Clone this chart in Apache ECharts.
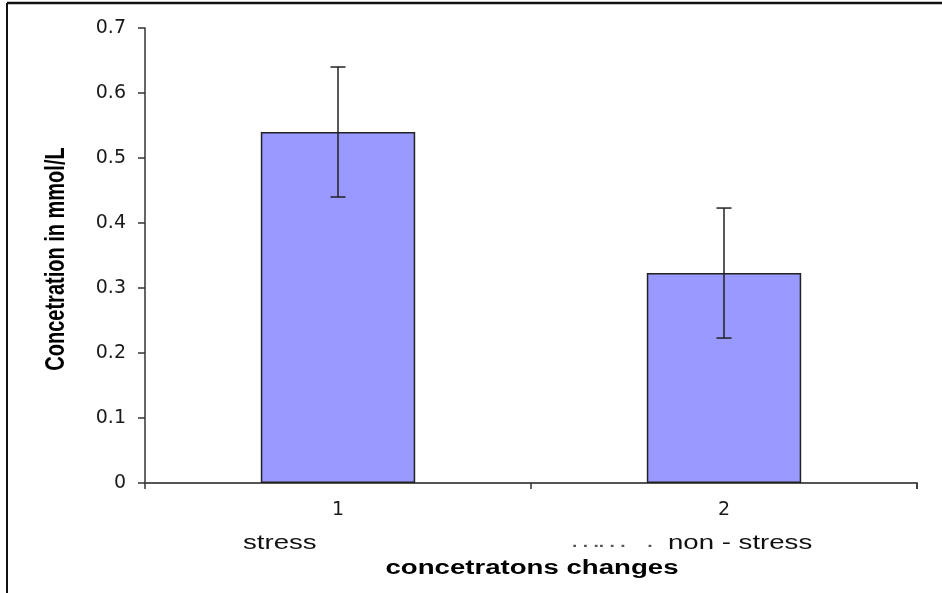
<!DOCTYPE html>
<html>
<head>
<meta charset="utf-8">
<script src="https://cdn.jsdelivr.net/npm/echarts@6/dist/echarts.min.js"></script>
<style>
html,body{margin:0;padding:0;background:#fff;}
#c{width:942px;height:593px;}
</style>
</head>
<body>
<div id="c"></div>
<script>
var categories = ['1', '2'];
var subLabels = ['stress', 'non - stress'];
var means = [0.54, 0.323];
var errors = [0.1, 0.1];
var yTicks = [0, 0.1, 0.2, 0.3, 0.4, 0.5, 0.6, 0.7];
var xTitle = 'concetratons changes';
var yTitle = 'Concetration in mmol/L';

var chart = echarts.init(document.getElementById('c'), null, {renderer: 'canvas'});
var FONT = '"Liberation Sans", Arial, sans-serif';
var WIDE = '"DejaVu Sans", "Liberation Sans", sans-serif';
var SX = 1.38;

var errData = means.map(function (m, i) { return [i, m - errors[i], m + errors[i]]; });

var option = {
  animation: false,
  backgroundColor: '#ffffff',
  grid: {left: 145, right: 25, top: 28, bottom: 110, containLabel: false},
  xAxis: {
    type: 'category',
    data: categories,
    axisLine: {lineStyle: {color: '#555', width: 2}},
    axisTick: {show: true, length: 6, lineStyle: {color: '#333', width: 1.5}},
    axisLabel: {fontFamily: WIDE, fontSize: 19, color: '#1a1a1a', margin: 18},
    splitLine: {show: false}
  },
  yAxis: {
    type: 'value',
    min: 0, max: 0.7, interval: 0.1,
    axisLine: {show: true, lineStyle: {color: '#333', width: 1.5}},
    axisTick: {show: true, length: 7, lineStyle: {color: '#333', width: 1.5}},
    axisLabel: {fontFamily: WIDE, fontSize: 19, color: '#1a1a1a', margin: 19,
      formatter: function (v) { var t = yTicks.find(function (x) { return Math.abs(x - v) < 1e-9; }); return String(t !== undefined ? t : v); }},
    splitLine: {show: false}
  },
  series: [
    {
      type: 'bar',
      data: means,
      barWidth: '40%',
      itemStyle: {color: '#9999FF', borderColor: '#222', borderWidth: 1.5},
      z: 2
    },
    {
      type: 'custom',
      data: errData,
      z: 5,
      renderItem: function (params, api) {
        var x = api.value(0);
        var lo = api.coord([x, api.value(1)]);
        var hi = api.coord([x, api.value(2)]);
        var cap = 7.5;
        var style = {stroke: '#222', lineWidth: 1.5};
        return {
          type: 'group',
          children: [
            {type: 'line', shape: {x1: hi[0], y1: hi[1], x2: lo[0], y2: lo[1]}, style: style},
            {type: 'line', shape: {x1: hi[0] - cap, y1: hi[1], x2: hi[0] + cap, y2: hi[1]}, style: style},
            {type: 'line', shape: {x1: lo[0] - cap, y1: lo[1], x2: lo[0] + cap, y2: lo[1]}, style: style}
          ]
        };
      }
    }
  ],
  graphic: [
    {type: 'line', shape: {x1: 7, y1: 3, x2: 942, y2: 3}, style: {stroke: '#111', lineWidth: 2.5}, silent: true},
    {type: 'line', shape: {x1: 7, y1: 3, x2: 7, y2: 593}, style: {stroke: '#111', lineWidth: 2}, silent: true},
    {type: 'line', shape: {x1: 917, y1: 483, x2: 917, y2: 489}, style: {stroke: '#333', lineWidth: 1.5}, silent: true},
    {type: 'text', x: 243, y: 543, scaleX: SX,
      style: {text: subLabels[0], font: '20px ' + FONT, fill: '#111', align: 'left', verticalAlign: 'middle'}},
    {type: 'text', x: 668, y: 543, scaleX: SX,
      style: {text: subLabels[1], font: '20px ' + FONT, fill: '#111', align: 'left', verticalAlign: 'middle'}},
    {type: 'text', x: 572, y: 543, scaleX: SX,
      style: {text: '. . .. . .    .', font: 'bold 14px ' + FONT, fill: '#555', align: 'left', verticalAlign: 'middle'}},
    {type: 'text', x: 532, y: 568, scaleX: SX,
      style: {text: xTitle, font: 'bold 20px ' + FONT, fill: '#000', align: 'center', verticalAlign: 'middle'}},
    {type: 'text', x: 56, y: 259, rotation: Math.PI / 2, scaleY: SX,
      style: {text: yTitle, font: 'bold 20px ' + FONT, fill: '#000', align: 'center', verticalAlign: 'middle'}}
  ]
};
chart.setOption(option);
</script>
</body>
</html>
